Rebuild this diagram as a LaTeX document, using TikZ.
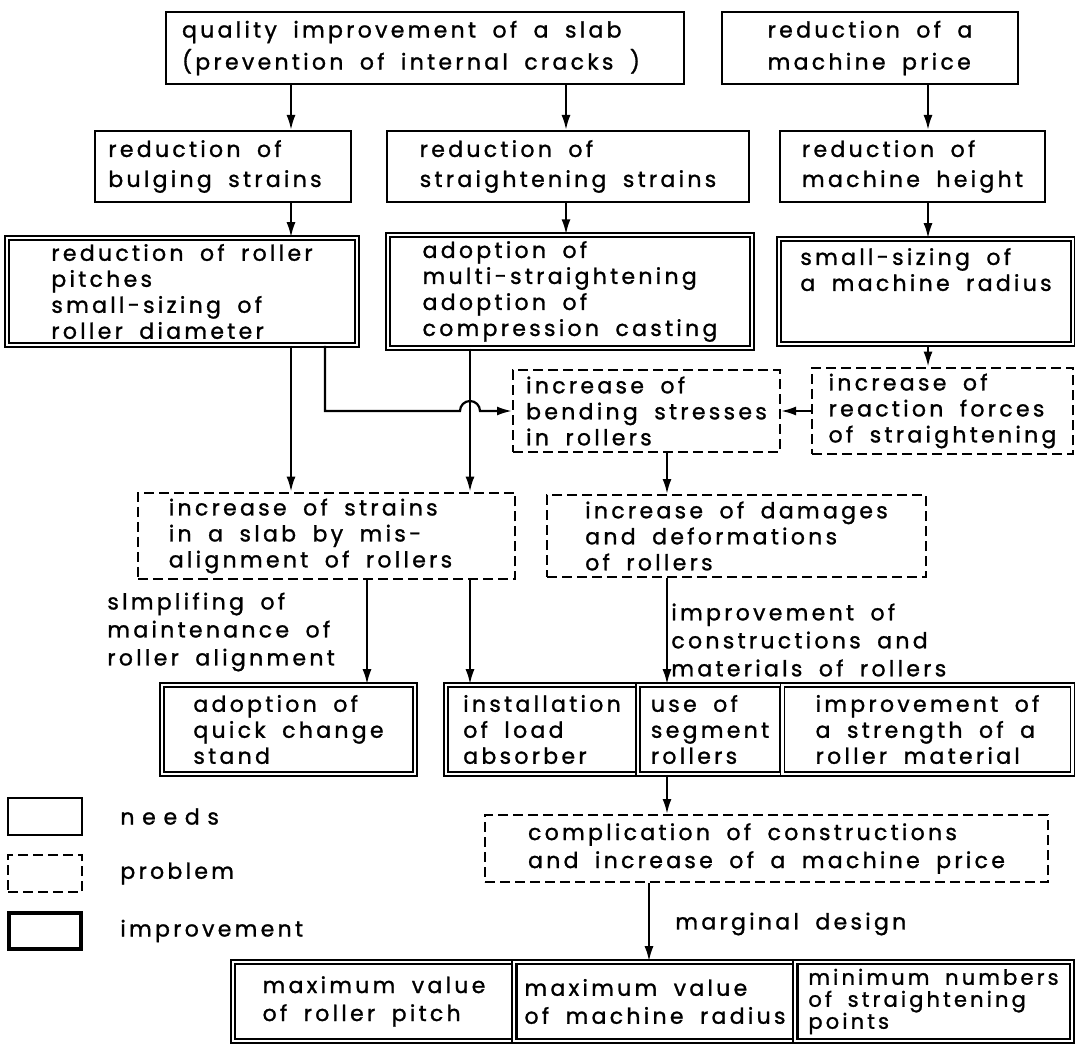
\documentclass[tikz,border=0pt]{standalone}
\usepackage{fontspec}
\setmainfont{Poppins}[WordSpace=1.8, LetterSpace=15, FakeBold=1.2]
\usetikzlibrary{arrows.meta,calc}

\tikzset{
  needs/.style={draw, line width=1pt, align=left, inner sep=3pt},
  problem/.style={needs, dash pattern=on 5pt off 2.5pt},
  improvement/.style={needs, double, double distance=1.2pt, line width=0.8pt},
  lbl/.style={align=left, inner sep=0pt, anchor=west},
  arr/.style={line width=1.1pt, -{Latex[length=7.5pt,width=4.5pt]}},
}

\begin{document}
\begin{tikzpicture}[x=0.5pt, y=-0.5pt, font=\fontsize{11}{13}\selectfont]
      \useasboundingbox (0,0) rectangle (1075,1043) ;
      % needs
      \node[needs, minimum width=259pt, minimum height=36pt, %
      font=\fontsize{11}{16}\selectfont] (N1) at (425,48) %
      {quality improvement of a slab\\(prevention of internal cracks )\hspace*{14pt}} ;
      \node[needs, minimum width=148pt, minimum height=36pt, %
      font=\fontsize{11}{16}\selectfont] (N2) at (870,48) %
      {reduction of a\\machine price} ;
      \node[needs, minimum width=128pt, minimum height=35.5pt, %
      font=\fontsize{11}{15}\selectfont] (N3) at (223,166.5) %
      {reduction of\\bulging strains\hspace*{8pt}} ;
      \node[needs, minimum width=181pt, minimum height=35.5pt, %
      font=\fontsize{11}{15}\selectfont] (N4) at (568,166.5) %
      {reduction of\\straightening strains} ;
      \node[needs, minimum width=132.5pt, minimum height=35.5pt, %
      font=\fontsize{11}{15}\selectfont] (N5) at (912.5,166.5) %
      {reduction of\\machine height} ;
      % improvements
      \node[improvement, minimum width=175pt, minimum height=52.5pt] (I1) at (182,291.5) %
      {reduction of roller\\pitches\\small-sizing of\\roller diameter} ;
      \node[improvement, minimum width=182pt, minimum height=52.5pt] (I2) at (570,291.5) %
      {adoption of\\multi-straightening\\adoption of\\compression casting} ;
      \node[improvement, minimum width=147pt, minimum height=52.5pt, text depth=22pt] (I3) at (926,291.5) %
      {small-sizing of\\a machine radius} ;
      % problems
      \node[problem, minimum width=133.5pt, minimum height=37pt] (P1) at (646.5,411) %
      {increase of\\bending stresses\\in rollers} ;
      \node[problem, minimum width=130.5pt, minimum height=37pt] (P2) at (942.5,411) %
      {increase of\\reaction forces\\of straightening} ;
      \node[problem, minimum width=188.5pt, minimum height=41pt] (P3) at (326.5,536) %
      {increase of strains\\in a slab by mis-\\alignment of rollers\hspace*{16pt}} ;
      \node[problem, minimum width=189.5pt, minimum height=41pt] (P4) at (736.5,536) %
      {increase of damages\\and deformations\\of rollers} ;
      \node[lbl, font=\fontsize{11}{14}\selectfont] (Lsimp) at (107,632) %
      {slmplifing of\\maintenance of\\roller alignment} ;
      \node[lbl, font=\fontsize{11}{14}\selectfont] (Lcons) at (671,640) %
      {improvement of\\constructions and\\materials of rollers} ;
      \node[improvement, minimum width=126.5pt, minimum height=44.5pt] (I4) at (288.5,729.5) %
      {adoption of\\quick change\\stand} ;
      \node[improvement, minimum width=96pt, minimum height=44.5pt, inner xsep=1pt] (I5a) at (542,729.5) %
      {installation\\of load\\absorber} ;
      \node[improvement, minimum width=72pt, minimum height=44.5pt, inner xsep=1pt] (I5b) at (710,729.5) %
      {use of\\segment\\rollers} ;
      \node[improvement, minimum width=145pt, minimum height=44.5pt] (I5c) at (927.5,729.5) %
      {improvement of\\a strength of a\\roller material} ;
      \node[problem, minimum width=281.5pt, minimum height=33.5pt, %
      font=\fontsize{11}{14}\selectfont] (P5) at (766.5,848.5) %
      {complication of constructions\\and increase of a machine price} ;
      \node[lbl] (Lmarg) at (675,924) {marginal design} ;
      \node[improvement, minimum width=141pt, minimum height=39.5pt, %
      font=\fontsize{11}{14}\selectfont] (B1) at (374,1001.5) %
      {maximum value\\of roller pitch} ;
      \node[improvement, minimum width=141pt, minimum height=39.5pt, inner xsep=1pt, %
      font=\fontsize{11}{14}\selectfont] (B2) at (655,1001.5) %
      {maximum value\\of machine radius} ;
      \node[improvement, minimum width=138.5pt, minimum height=39.5pt, inner ysep=1pt, %
      font=\fontsize{10.5}{11}\selectfont] (B3) at (933.5,1001.5) %
      {minimum numbers\\of straightening\\points\hspace*{50pt}} ;
      % legend
      \node[needs, minimum width=37pt, minimum height=18.5pt] (Kneeds) at (45,816.5) {} ;
      \node[problem, minimum width=37pt, minimum height=18.5pt] (Kprob) at (45,873.5) {} ;
      \node[draw, line width=2.2pt, minimum width=36pt, minimum height=18pt] (Kimpr) at (45,931) {} ;
      \node[lbl] (Lneeds) at (120,816.5) {\addfontfeature{LetterSpace=35}needs} ;
      \node[lbl] (Lprob) at (120,873.5) {problem} ;
      \node[lbl] (Limpr) at (120,931) {improvement} ;
      % connectors
      \coordinate (xa) at (291,0) ;
      \coordinate (xb) at (566,0) ;
      \coordinate (xc) at (928,0) ;
      \coordinate (xd) at (325,0) ;
      \coordinate (xe) at (470,0) ;
      \coordinate (xf) at (667,0) ;
      \coordinate (xg) at (367,0) ;
      \coordinate (xh) at (649,0) ;
      \draw[arr] (N1.south -| xa) -- (N3.north -| xa) ;
      \draw[arr] (N3.south -| xa) -- (I1.north -| xa) ;
      \draw[arr] (I1.south -| xa) -- (P3.north -| xa) ;
      \draw[arr] (N1.south -| xb) -- (N4.north -| xb) ;
      \draw[arr] (N4.south -| xb) -- (I2.north -| xb) ;
      \draw[arr] (I2.south -| xe) -- (P3.north -| xe) ;
      \draw[arr] (N2.south -| xc) -- (N5.north -| xc) ;
      \draw[arr] (N5.south -| xc) -- (I3.north -| xc) ;
      \draw[arr] (I3.south -| xc) -- (P2.north -| xc) ;
      \draw[arr] (P2.west) -- (P1.east) ;
      \draw[arr] (I1.south -| xd) |- ($(P1.west -| xe)+(-5pt,0)$) %
      arc[start angle=180,end angle=0,radius=5pt] -- (P1.west) ;
      \draw[arr] (P1.south -| xf) -- (P4.north -| xf) ;
      \draw[arr] (P3.south -| xg) -- (I4.north -| xg) ;
      \draw[arr] (P3.south -| xe) -- (I5a.north -| xe) ;
      \draw[arr] (P4.south -| xf) -- (I5b.north -| xf) ;
      \draw[arr] (I5b.south -| xf) -- (P5.north -| xf) ;
      \draw[arr] (P5.south -| xh) -- (B2.north -| xh) ;
    \end{tikzpicture}
\end{document}
